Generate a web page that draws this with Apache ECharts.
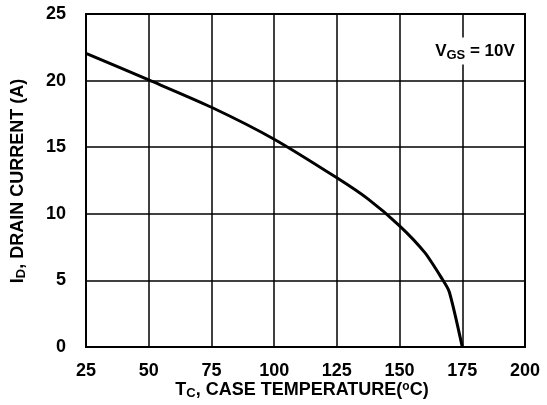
<!DOCTYPE html>
<html>
<head>
<meta charset="utf-8">
<script src="https://cdn.jsdelivr.net/npm/echarts@6/dist/echarts.min.js"></script>
<style>
html,body{margin:0;padding:0;background:#fff;}
#chart{width:547px;height:405px;}
</style>
</head>
<body>
<div id="chart"></div>
<script>
// case temperature (C) vs drain current (A)
var tempC = [25, 50, 75, 100, 125, 137.5, 150, 160, 167, 169.8, 175];
var drainA = [22.05, 20.05, 18.0, 15.6, 12.7, 11.1, 9.1, 7.1, 5.1, 4.15, 0];
var xTicks = [25, 50, 75, 100, 125, 150, 175, 200];
var yTicks = [0, 5, 10, 15, 20, 25];

var pts = [];
for (var i = 0; i < tempC.length; i++) {
  pts.push([tempC[i], drainA[i]]);
}

var font = '"Liberation Sans", Arial, sans-serif';
var chart = echarts.init(document.getElementById('chart'));
var option = {
  animation: false,
  grid: {
    left: 86, right: 22, top: 14, bottom: 58,
    show: true, borderColor: '#000', borderWidth: 2
  },
  xAxis: {
    type: 'value',
    min: xTicks[0], max: xTicks[xTicks.length - 1], interval: 25,
    axisLine: {show: true, lineStyle: {color: '#000', width: 2}},
    axisTick: {show: false},
    axisLabel: {color: '#000', fontWeight: 'bold', fontSize: 18, fontFamily: font, margin: 15},
    splitLine: {show: true, lineStyle: {color: '#000', width: 1.5}}
  },
  yAxis: {
    type: 'value',
    min: yTicks[0], max: yTicks[yTicks.length - 1], interval: 5,
    axisLine: {show: true, lineStyle: {color: '#000', width: 2}},
    axisTick: {show: false},
    axisLabel: {color: '#000', fontWeight: 'bold', fontSize: 18, fontFamily: font, margin: 20},
    splitLine: {show: true, lineStyle: {color: '#000', width: 1.5}}
  },
  series: [{
    type: 'line',
    data: pts,
    smooth: 0.25,
    showSymbol: false,
    lineStyle: {color: '#000', width: 3}
  }],
  graphic: [
    {
      type: 'text', x: 475, y: 51, z: 100,
      style: {
        rich: {
          m: {fontSize: 17, fontWeight: 'bold', fontFamily: font, fill: '#000'},
          s: {fontSize: 13, fontWeight: 'bold', fontFamily: font, fill: '#000', padding: [7, 0, 0, 0]}
        },
        text: '{m|V}{s|GS}{m| = 10V}',
        align: 'center', verticalAlign: 'middle',
        backgroundColor: '#fff',
        padding: [4, 2, 3, 2]
      }
    },
    {
      type: 'text', x: 302, y: 390,
      style: {
        rich: {
          m: {fontSize: 18, fontWeight: 'bold', fontFamily: font, fill: '#000'},
          s: {fontSize: 13, fontWeight: 'bold', fontFamily: font, fill: '#000', padding: [7, 0, 0, 0]},
          o: {fontSize: 12, fontWeight: 'bold', fontFamily: font, fill: '#000', padding: [0, 0, 7, 0]}
        },
        text: '{m|T}{s|C}{m|, CASE TEMPERATURE(}{o|o}{m|C)}',
        align: 'center', verticalAlign: 'middle'
      }
    },
    {
      type: 'text', x: 18, y: 181, rotation: Math.PI / 2,
      style: {
        rich: {
          m: {fontSize: 18, fontWeight: 'bold', fontFamily: font, fill: '#000'},
          s: {fontSize: 13, fontWeight: 'bold', fontFamily: font, fill: '#000', padding: [7, 0, 0, 0]}
        },
        text: '{m|I}{s|D}{m|, DRAIN CURRENT (A)}',
        align: 'center', verticalAlign: 'middle'
      }
    }
  ]
};
chart.setOption(option);
</script>
</body>
</html>
